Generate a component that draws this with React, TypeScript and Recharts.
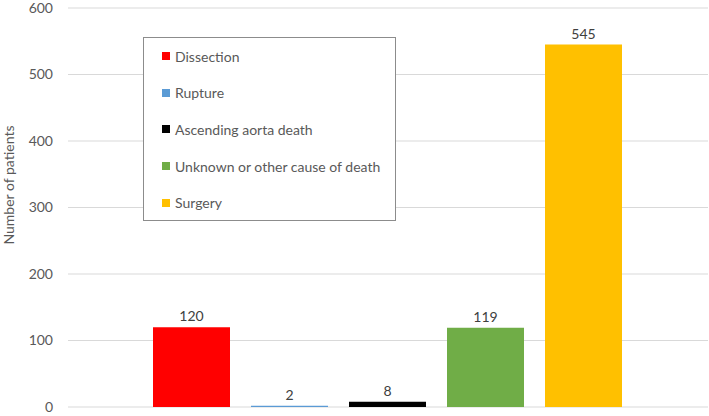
import { Bar, BarChart, CartesianGrid, LabelList, Legend, XAxis, YAxis } from "recharts";

// series in the single category, left to right
const seriesKeys = ["dissection", "rupture", "ascending", "unknown", "surgery"];
const seriesNames = [
  "Dissection",
  "Rupture",
  "Ascending aorta death",
  "Unknown or other cause of death",
  "Surgery",
];
const seriesValues = [120, 2, 8, 119, 545];
const seriesColors = ["#FF0000", "#5B9BD5", "#000000", "#70AD47", "#FFC000"];
const yTicks = [0, 100, 200, 300, 400, 500, 600];

const FONT = "Lato, 'Open Sans', sans-serif";

const row: Record<string, number | string> = { name: "" };
seriesKeys.forEach((k, i) => {
  row[k] = seriesValues[i];
});
const chartData = [row];

function LegendBox(props: any) {
  // keep the series order, not alphabetical
  const payload = [...(props.payload || [])].sort(
    (a: any, b: any) => seriesNames.indexOf(a.value) - seriesNames.indexOf(b.value)
  );
  return (
    <div
      style={{
        border: "1px solid #8c8c8c",
        background: "#fff",
        width: 251,
        height: 182,
        boxSizing: "content-box",
        fontFamily: FONT,
        fontSize: 14,
        color: "#595959",
      }}
    >
      {payload.map((p: any) => (
        <div
          key={p.value}
          style={{ height: 36.6, display: "flex", alignItems: "center", paddingLeft: 18 }}
        >
          <span
            style={{ width: 8, height: 8, background: p.color, display: "inline-block", marginRight: 5 }}
          />
          <span>{p.value}</span>
        </div>
      ))}
    </div>
  );
}

export default function App() {
  return (
    <div style={{ position: "absolute", left: 0, top: 0, background: "#fff" }}>
      <BarChart
        width={709}
        height={416}
        data={chartData}
        margin={{ top: 8, right: 1, left: 0, bottom: 9 }}
        barCategoryGap={85}
        barGap={21}
      >
        <CartesianGrid vertical={false} stroke="#D9D9D9" />
        <XAxis dataKey="name" hide />
        <YAxis
          width={68}
          domain={[0, 600]}
          ticks={yTicks}
          interval={0}
          axisLine={false}
          tickLine={false}
          tickMargin={9}
          tick={{ fill: "#595959", fontSize: 14, fontFamily: FONT }}
          label={{
            content: () => (
              <text
                x={14}
                y={185}
                transform="rotate(-90 14 185)"
                textAnchor="middle"
                fill="#595959"
                fontSize={14}
                fontFamily={FONT}
              >
                Number of patients
              </text>
            ),
          }}
        />
        <Legend
          layout="vertical"
          align="center"
          verticalAlign="middle"
          content={<LegendBox />}
          wrapperStyle={{ left: 143, top: 37, width: 253, height: 184 }}
        />
        {seriesKeys.map((k, i) => (
          <Bar key={k} dataKey={k} name={seriesNames[i]} fill={seriesColors[i]} isAnimationActive={false}>
            <LabelList
              dataKey={k}
              position="top"
              offset={6}
              fill="#404040"
              fontSize={14}
              fontFamily={FONT}
            />
          </Bar>
        ))}
      </BarChart>
    </div>
  );
}
